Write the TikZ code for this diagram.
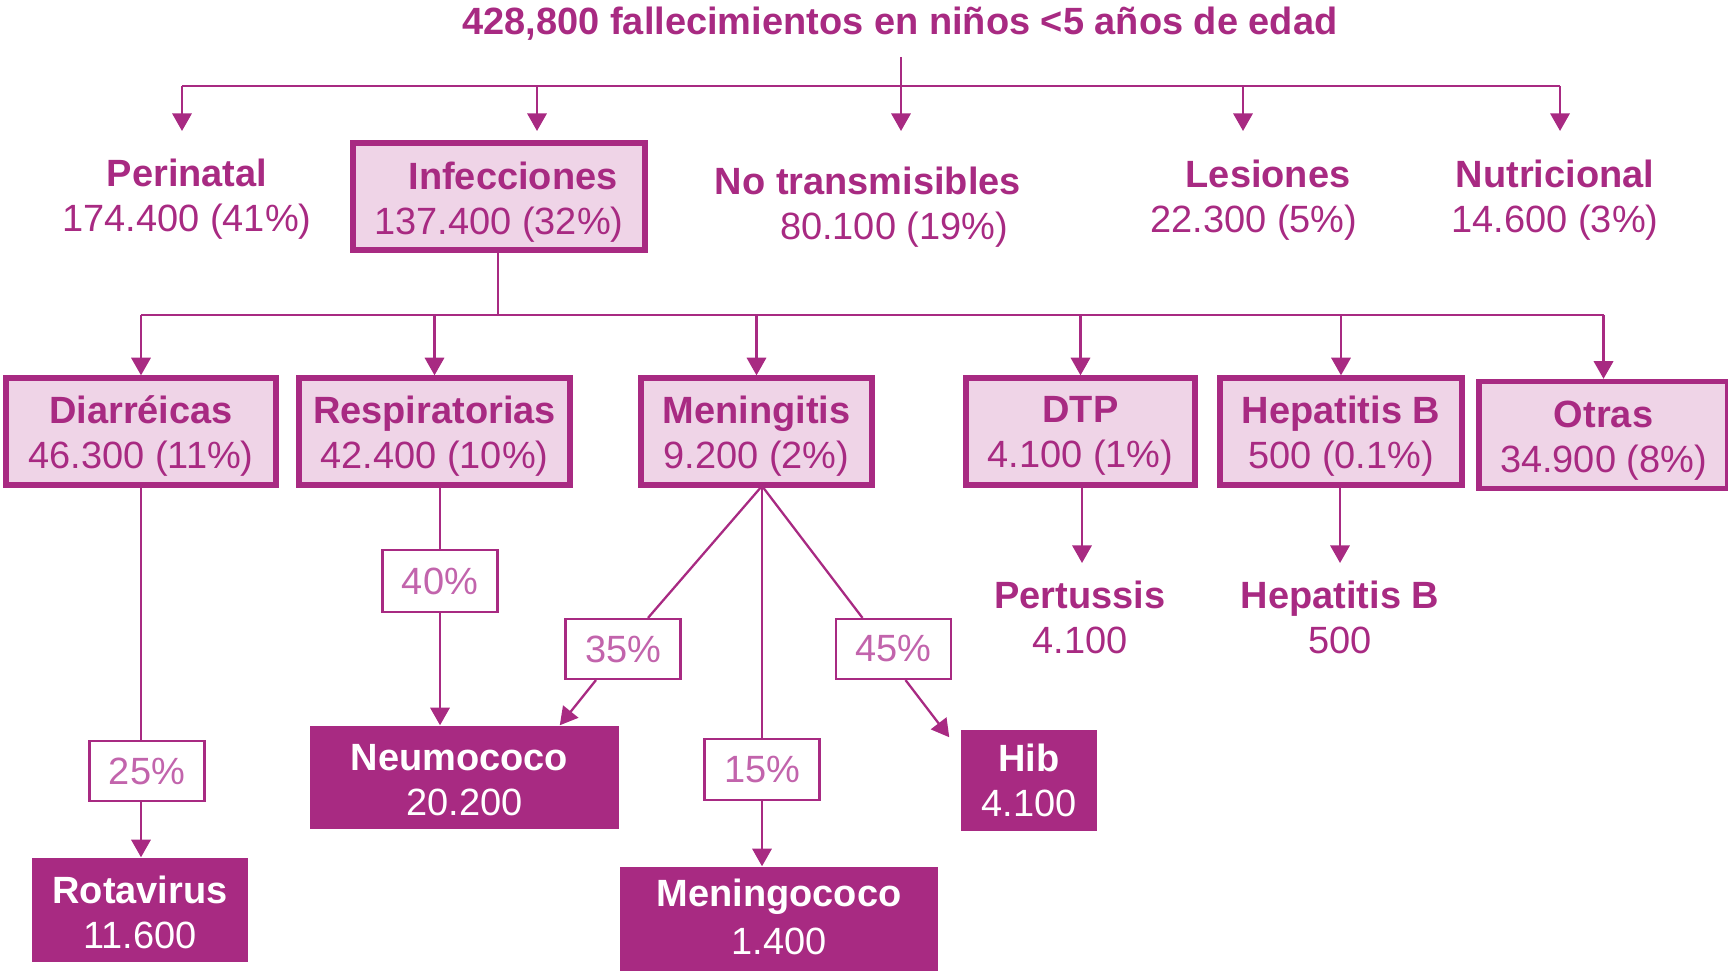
\documentclass[tikz,border=0pt]{standalone}
\usepackage{fontspec}
\setmainfont{Liberation Sans}
\usetikzlibrary{arrows.meta,calc}
\definecolor{mag}{HTML}{A82A82}
\definecolor{lite}{HTML}{EFD4E7}
\definecolor{pctc}{HTML}{C264AC}
\begin{document}
\begin{tikzpicture}[x=0.01cm,y=-0.01cm,
  font=\fontsize{10.8}{12.8}\selectfont,
  lab/.style={text=mag,align=center,inner sep=0pt},
  wlab/.style={text=white,align=center,inner sep=0pt},
  litebox/.style={draw=mag,fill=lite,line width=1.5pt,inner sep=0pt,minimum height=1.07cm},
  darkbox/.style={fill=mag,inner sep=0pt},
  pctbox/.style={draw=mag,fill=white,line width=0.6pt,text=pctc,inner sep=0pt,minimum width=1.15cm,minimum height=0.6cm},
  conn/.style={draw=mag,line width=0.65pt},
  arr/.style={conn,-{Triangle[width=5.5pt,length=5pt]}}
]
\useasboundingbox (0,0) rectangle (1728,971);
\clip (0,0) rectangle (1728,971);

% title and first level
\node[lab] (title) at (900,24) {\textbf{428,800 fallecimientos en niños <5 años de edad}};
\node[lab] (peri) at (187,199) {\textbf{Perinatal}\\174.400 (41\%)};
\node[litebox,minimum width=2.92cm] (inf) at (499,196.5) {};
\node[lab] (inf-t) at (499,202) {\hspace*{0.28cm}\textbf{Infecciones}\\137.400 (32\%)};
\node[lab] (nt) at (881,207) {\textbf{No transmisibles}\hspace*{0.26cm}\\\hspace*{0.26cm}80.100 (19\%)};
\node[lab] (les) at (1261,200) {\hspace*{0.14cm}\textbf{Lesiones}\\22.300 (5\%)\hspace*{0.14cm}};
\node[lab] (nut) at (1555,200) {\textbf{Nutricional}\\14.600 (3\%)};

\coordinate (t0) at (901,57);
\coordinate (tb) at (901,86);
\coordinate (h1) at (182,86);
\coordinate (h2) at (537,86);
\coordinate (h4) at (1243,86);
\coordinate (h5) at (1560,86);
\coordinate (a1) at (182,131);
\coordinate (a2) at (537,131);
\coordinate (a3) at (901,131);
\coordinate (a4) at (1243,131);
\coordinate (a5) at (1560,131);
\draw[conn] (t0) -- (tb);
\draw[conn] (h1) -- (h5);
\draw[arr] (h1) -- (a1);
\draw[arr] (h2) -- (a2);
\draw[arr] (tb) -- (a3);
\draw[arr] (h4) -- (a4);
\draw[arr] (h5) -- (a5);

% second level
\node[litebox,minimum width=2.70cm] (diar) at (141,431.5) {};
\node[litebox,minimum width=2.71cm] (resp) at (434.5,431.5) {};
\node[litebox,minimum width=2.31cm] (men) at (756.5,431.5) {};
\node[litebox,minimum width=2.29cm] (dtp) at (1080.5,431.5) {};
\node[litebox,minimum width=2.42cm] (hepb) at (1341,431.5) {};
\node[litebox,minimum width=2.49cm] (otras) at (1603.5,435) {};
\node[lab] (diar-t) at (141,436) {\textbf{Diarréicas}\\46.300 (11\%)};
\node[lab] (resp-t) at (434.5,436) {\textbf{Respiratorias}\\42.400 (10\%)};
\node[lab] (men-t) at (756.5,436) {\textbf{Meningitis}\\9.200 (2\%)};
\node[lab] (dtp-t) at (1080.5,436) {\textbf{DTP}\\4.100 (1\%)};
\node[lab] (hepb-t) at (1341,436) {\textbf{Hepatitis B}\\500 (0.1\%)};
\node[lab] (otras-t) at (1603.5,441) {\textbf{Otras}\\34.900 (8\%)};

\coordinate (ib) at (498,315);
\draw[conn] (inf.south -| ib) -- (ib);
\draw[conn] (diar.north |- ib) -- (otras.north |- ib);
\draw[arr] (diar.north |- ib) -- (diar.north);
\draw[arr] (resp.north |- ib) -- (resp.north);
\draw[arr] (men.north |- ib) -- (men.north);
\draw[arr] (dtp.north |- ib) -- (dtp.north);
\draw[arr] (hepb.north |- ib) -- (hepb.north);
\draw[arr] (otras.north |- ib) -- (otras.north);

% third level
\node[pctbox] (p25) at (147,771) {25\%};
\node[darkbox,minimum width=2.15cm,minimum height=1.04cm] (rota) at (140,910) {};
\node[wlab] (rota-t) at (140,912) {\textbf{Rotavirus}\\11.600};
\draw[conn] (diar.south) -- (diar.south |- p25.north);
\draw[arr] (diar.south |- p25.south) -- (diar.south |- rota.north);

\node[pctbox,minimum height=0.62cm] (p40) at (440,581) {40\%};
\node[darkbox,minimum width=3.09cm,minimum height=1.03cm] (neu) at (464.5,777.5) {};
\node[wlab] (neu-t) at (464.5,780) {\textbf{Neumococo}\hspace*{0.1cm}\\20.200};
\draw[conn] (resp.south -| p40) -- (p40.north);
\draw[arr] (p40.south) -- (p40.south |- neu.north);

\coordinate (mb) at (762,486);
\node[pctbox] (p35) at (623,649) {35\%};
\node[pctbox,minimum height=0.61cm] (p15) at (762,769.5) {15\%};
\node[pctbox] (p45) at (893.5,649) {45\%};
\node[darkbox,minimum width=3.18cm,minimum height=1.10cm] (mgc) at (779,922) {};
\node[wlab] (mgc-t) at (779,917) {\textbf{Meningococo}\\[1pt]1.400};
\node[darkbox,minimum width=1.36cm,minimum height=1.01cm] (hib) at (1029,780.5) {};
\node[wlab] (hib-t) at (1029,780) {\textbf{Hib}\\4.100};

\draw[conn] (mb) -- ($(p35.north)+(25,0)$);
\draw[arr] ($(p35.south)+(-27,0)$) -- ($(neu.north east)+(-60,0)$);
\draw[conn] (mb) -- (mb |- p15.north);
\draw[arr] (p15.south) -- (p15.south |- mgc.north);
\draw[conn] (mb) -- ($(p45.north)+(-31,0)$);
\draw[arr] ($(p45.south)+(12,0)$) -- ($(hib.north west)+(-11,8)$);

\node[lab] (pert) at (1080,617) {\textbf{Pertussis}\\4.100};
\node[lab] (hepb2) at (1340,617) {\textbf{Hepatitis B}\\500};
\coordinate (pa) at (1082,563);
\coordinate (ha) at (1340,563);
\draw[arr] (dtp.south -| pa) -- (pa);
\draw[arr] (hepb.south -| ha) -- (ha);
\end{tikzpicture}
\end{document}
